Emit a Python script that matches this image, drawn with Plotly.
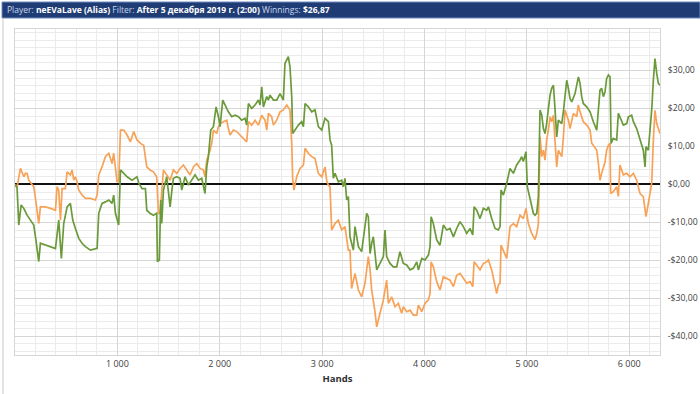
import plotly.graph_objects as go

green_hands = [0, 20, 37, 60, 86, 118, 151, 183, 200, 232, 248, 297, 346, 395, 427, 453, 476, 509, 541, 564, 590, 623, 655, 688, 737, 785, 802, 818, 850, 883, 916, 948, 964, 981, 1013, 1030, 1062, 1095, 1143, 1192, 1209, 1241, 1274, 1287, 1319, 1352, 1384, 1391, 1410, 1423, 1433, 1450, 1482, 1498, 1515, 1531, 1547, 1580, 1612, 1629, 1661, 1694, 1726, 1759, 1791, 1824, 1856, 1873, 1889, 1912, 1938, 1964, 1987, 2003, 2029, 2052, 2084, 2117, 2149, 2182, 2214, 2247, 2263, 2280, 2312, 2345, 2377, 2393, 2410, 2426, 2459, 2475, 2491, 2524, 2556, 2589, 2621, 2637, 2670, 2686, 2703, 2712, 2735, 2768, 2800, 2817, 2833, 2865, 2898, 2930, 2963, 2996, 3028, 3061, 3077, 3093, 3109, 3126, 3158, 3191, 3207, 3223, 3240, 3256, 3272, 3305, 3321, 3354, 3386, 3402, 3435, 3451, 3468, 3484, 3500, 3533, 3565, 3598, 3614, 3630, 3663, 3695, 3728, 3760, 3793, 3826, 3859, 3891, 3924, 3940, 3973, 4005, 4038, 4054, 4064, 4086, 4119, 4151, 4184, 4217, 4249, 4282, 4314, 4347, 4379, 4412, 4445, 4471, 4484, 4510, 4542, 4575, 4607, 4624, 4656, 4689, 4721, 4738, 4747, 4770, 4803, 4835, 4868, 4900, 4933, 4949, 4965, 4991, 5004, 5030, 5063, 5079, 5096, 5112, 5128, 5145, 5161, 5177, 5193, 5210, 5226, 5242, 5259, 5275, 5291, 5307, 5340, 5356, 5372, 5389, 5405, 5421, 5438, 5470, 5503, 5519, 5535, 5551, 5584, 5617, 5649, 5682, 5714, 5730, 5747, 5763, 5779, 5796, 5812, 5822, 5844, 5877, 5893, 5926, 5942, 5975, 5991, 6023, 6040, 6072, 6105, 6121, 6137, 6154, 6163, 6186, 6202, 6219, 6235, 6251, 6268, 6284, 6300]
green_vals = [0, -0.8, -10.7, -5.4, -6.3, -8.1, -9.4, -10.7, -13.8, -20.3, -15.5, -16.0, -16.4, -16.9, -9.4, -19.5, -10.3, -5.9, -5.0, -9.4, -11.6, -14.2, -15.5, -16.4, -17.3, -16.8, -16.8, -7.6, -5.0, -4.6, -4.1, -5.0, -2.8, -7.6, -10.7, 3.8, 2.9, 2.0, 1.1, 2.0, 0.3, -1.1, -1.1, -6.8, -7.6, -8.1, -7.6, -20.3, -19.9, -4.1, -10.3, -1.5, 2.0, -2.4, -5.9, -1.9, 1.6, 2.0, 1.6, -1.5, 2.0, -0.2, 1.1, 2.5, 1.1, 1.6, -2.4, 4.6, 7.3, 14.3, 15.2, 20.4, 17.8, 15.2, 22.2, 20.9, 19.1, 17.8, 18.2, 17.8, 16.9, 17.4, 15.6, 21.3, 20.0, 20.9, 22.2, 20.9, 25.7, 20.4, 23.1, 22.2, 23.5, 22.2, 22.2, 23.9, 22.2, 31.8, 33.6, 30.9, 23.1, 13.4, 14.3, 15.6, 16.5, 15.2, 21.3, 20.4, 19.1, 19.6, 15.2, 14.3, 17.4, 16.5, 11.7, 10.3, 1.6, 2.9, 0.7, 1.1, -0.6, 1.6, -4.1, -3.2, -13.8, -17.3, -11.1, -16.4, -17.7, -14.6, -7.6, -8.5, -18.2, -15.5, -13.8, -22.5, -20.8, -19.0, -12.0, -19.0, -20.8, -21.7, -21.7, -17.7, -20.8, -21.2, -22.5, -22.1, -20.4, -22.5, -19.5, -19.9, -18.6, -16.4, -8.5, -10.3, -14.6, -16.0, -10.7, -12.0, -11.6, -13.8, -11.6, -9.8, -11.1, -12.9, -11.6, -13.3, -5.9, -6.8, -9.0, -6.3, -6.8, -5.9, -9.0, -11.6, -12.0, -11.1, -1.5, -2.8, 0.3, 4.2, 2.9, 5.1, 6.4, 7.3, 6.0, 8.6, -0.6, -4.1, -7.6, -8.1, -7.6, -3.2, 19.6, 18.2, 14.7, 13.4, 16.0, 20.0, 23.5, 25.3, 26.1, 19.6, 12.5, 16.9, 16.0, 19.1, 23.9, 27.4, 25.3, 22.6, 21.7, 23.9, 28.3, 26.6, 23.1, 21.3, 20.4, 19.1, 16.5, 14.3, 24.8, 25.3, 23.1, 24.4, 27.9, 28.8, 28.3, 10.8, 12.1, 11.7, 18.7, 16.9, 15.6, 16.0, 17.8, 18.2, 16.5, 14.7, 12.1, 10.3, 9.0, 4.6, 9.9, 9.0, 13.4, 19.6, 27.4, 33.1, 29.2, 26.6, 26.1]

orange_hands = [0, 20, 53, 69, 86, 102, 118, 134, 167, 183, 200, 232, 248, 297, 346, 395, 411, 427, 444, 460, 492, 509, 541, 557, 574, 590, 606, 623, 655, 688, 737, 785, 802, 818, 850, 883, 916, 948, 964, 981, 997, 1013, 1030, 1062, 1095, 1127, 1160, 1192, 1225, 1257, 1287, 1319, 1352, 1384, 1401, 1417, 1433, 1450, 1482, 1515, 1547, 1580, 1612, 1645, 1677, 1710, 1743, 1775, 1808, 1840, 1856, 1873, 1905, 1922, 1938, 1970, 1987, 2003, 2036, 2068, 2084, 2101, 2133, 2166, 2198, 2231, 2263, 2280, 2312, 2345, 2377, 2410, 2442, 2459, 2475, 2507, 2524, 2556, 2589, 2621, 2654, 2686, 2703, 2712, 2725, 2751, 2784, 2817, 2833, 2865, 2898, 2930, 2963, 2996, 3028, 3044, 3061, 3077, 3093, 3126, 3158, 3191, 3223, 3256, 3272, 3288, 3321, 3354, 3386, 3419, 3451, 3468, 3484, 3516, 3533, 3565, 3598, 3630, 3647, 3679, 3712, 3744, 3777, 3793, 3826, 3859, 3891, 3924, 3940, 3973, 4005, 4038, 4054, 4064, 4086, 4119, 4151, 4184, 4217, 4249, 4282, 4314, 4347, 4379, 4412, 4445, 4471, 4484, 4510, 4542, 4575, 4607, 4624, 4656, 4689, 4705, 4721, 4738, 4747, 4770, 4803, 4835, 4868, 4900, 4933, 4965, 4991, 5014, 5047, 5079, 5096, 5112, 5128, 5145, 5161, 5177, 5193, 5210, 5226, 5242, 5259, 5275, 5291, 5307, 5340, 5356, 5372, 5405, 5421, 5454, 5486, 5503, 5519, 5551, 5584, 5617, 5633, 5649, 5682, 5698, 5714, 5730, 5763, 5779, 5796, 5812, 5818, 5844, 5877, 5893, 5909, 5942, 5975, 6007, 6040, 6072, 6089, 6105, 6137, 6154, 6163, 6186, 6202, 6219, 6235, 6251, 6268, 6284, 6300]
orange_vals = [0, -0.8, 4.2, 3.3, 2.0, 2.9, 2.9, 1.1, -0.2, -0.6, -3.7, -10.3, -5.9, -5.9, -6.3, -6.8, -0.6, -1.5, -9.4, -1.1, -1.1, 3.3, 2.5, 3.8, 1.1, 2.0, 0.7, -1.5, -2.8, -3.7, -3.7, -4.1, -2.8, 2.5, 4.6, 7.3, 8.2, 5.5, 8.2, 3.3, 0.7, 0.7, 14.3, 14.3, 13.0, 11.2, 13.9, 11.7, 10.8, 10.3, 4.6, 3.8, 3.3, 2.0, -7.6, -7.6, -2.4, 3.8, 2.5, 1.1, 3.8, 2.9, 4.2, 5.1, 3.8, 2.5, 4.6, 5.5, 4.2, 3.8, 2.0, 6.4, 9.0, 10.8, 14.3, 13.4, 15.2, 16.0, 16.5, 16.9, 14.7, 13.0, 14.3, 13.9, 13.0, 12.1, 11.2, 16.5, 15.6, 16.9, 15.6, 18.2, 16.9, 14.3, 18.7, 17.8, 15.6, 16.9, 19.1, 19.6, 20.9, 19.6, 10.8, 1.6, -1.5, 2.0, 4.2, 5.1, 9.5, 8.2, 7.3, 6.8, 2.9, 2.0, 4.6, 1.1, -0.2, -0.6, -12.0, -10.3, -9.4, -12.0, -11.1, -17.3, -17.3, -27.4, -23.4, -27.8, -29.6, -26.0, -19.0, -22.5, -27.8, -33.5, -37.5, -33.9, -30.4, -25.2, -31.3, -29.6, -32.2, -31.3, -33.9, -32.2, -33.5, -33.1, -34.4, -34.4, -31.8, -33.5, -31.3, -30.4, -28.7, -20.4, -21.7, -25.6, -27.8, -24.3, -24.7, -25.2, -26.9, -23.9, -23.4, -24.7, -26.0, -25.6, -26.9, -20.4, -21.2, -22.5, -20.8, -20.4, -19.9, -22.5, -26.9, -28.7, -26.5, -26.0, -16.0, -17.3, -19.5, -11.1, -10.3, -11.1, -8.1, -9.0, -6.3, -10.3, -12.9, -14.5, -13.0, -10.3, 12.5, 7.3, 9.0, 6.4, 11.7, 14.3, 17.8, 16.5, 18.2, 11.2, 4.6, 9.0, 7.3, 12.1, 19.6, 16.9, 14.7, 18.7, 17.8, 20.9, 19.1, 16.5, 15.6, 14.3, 10.8, 10.3, 9.0, 5.5, 1.1, 2.9, 5.9, 9.0, 10.3, 10.8, -2.4, -1.9, -0.6, -3.2, 5.1, 2.5, 2.9, 2.0, 2.9, 1.1, -0.6, -2.4, -3.2, -6.3, -8.5, -5.0, -2.4, 0.3, 11.7, 19.5, 16.0, 14.3, 13.4]

x_tick_vals = [1000, 2000, 3000, 4000, 5000, 6000]
x_tick_text = ["1 000", "2 000", "3 000", "4 000", "5 000", "6 000"]
y_tick_vals = [30, 20, 10, 0, -10, -20, -30, -40]
y_tick_text = ["$30,00", "$20,00", "$10,00", "$0,00", "-$10,00", "-$20,00", "-$30,00", "-$40,00"]

header_text = ("<span style='color:#c9d6ee'>Player: </span><b>neEVaLave (Alias)</b>"
               "<span style='color:#c9d6ee'> Filter: </span><b>After 5 декабря 2019 г. (2:00)</b>"
               "<span style='color:#c9d6ee'> Winnings: </span><b>$26,87</b>")

FONT = "Open Sans"
L, R, T, B = 15, 40, 29, 39
PW, PH = 700 - L - R, 394 - T - B


def px(x):
    return (x - L) / PW


def py(y):
    return (394 - B - y) / PH


fig = go.Figure()
fig.add_trace(go.Scatter(x=orange_hands, y=orange_vals, mode="lines",
                         line=dict(color="#f7a257", width=1.7), showlegend=False))
fig.add_trace(go.Scatter(x=green_hands, y=green_vals, mode="lines",
                         line=dict(color="#6a9a3a", width=1.7), showlegend=False))

fig.update_layout(
    width=700, height=394,
    margin=dict(l=L, r=R, t=T, b=B, autoexpand=False),
    paper_bgcolor="white", plot_bgcolor="white",
    font=dict(family=FONT, size=9, color="#404040"),
    xaxis=dict(range=[0, 6300], tickmode="array", tickvals=x_tick_vals, ticktext=x_tick_text,
               automargin=False,
               showgrid=True, gridcolor="#d6d6d6", gridwidth=1,
               minor=dict(dtick=200, tick0=0, showgrid=True, gridcolor="#ebebeb"),
               showline=True, linecolor="#d6d6d6", mirror=True, zeroline=False,
               ticks="", tickfont=dict(size=9, color="#404040"),
               title=dict(text="<b>Hands</b>", font=dict(size=9.5, color="#303030"), standoff=6)),
    yaxis=dict(range=[-44.9, 40.9], side="right", tickmode="array",
               tickvals=y_tick_vals, ticktext=y_tick_text, automargin=False,
               showgrid=True, gridcolor="#d6d6d6", gridwidth=1,
               minor=dict(dtick=2, tick0=0, showgrid=True, gridcolor="#ebebeb"),
               showline=True, linecolor="#d6d6d6", mirror=True,
               zeroline=True, zerolinecolor="#111111", zerolinewidth=2,
               ticks="", ticklabelstandoff=5, tickfont=dict(size=8.7, color="#404040")),
    shapes=[
        dict(type="rect", xref="paper", yref="paper",
             x0=px(2), x1=px(700), y0=py(18), y1=py(2),
             fillcolor="#1f3d74", line=dict(color="#6f8cc0", width=1), layer="above"),
        dict(type="line", xref="paper", yref="paper",
             x0=px(3), x1=px(3), y0=py(394), y1=py(18),
             line=dict(color="#c8c8c8", width=1)),
    ],
    annotations=[
        dict(text=header_text, xref="paper", yref="paper",
             x=px(5), y=py(10), xanchor="left", yanchor="middle",
             showarrow=False, font=dict(family=FONT, size=8.5, color="white")),
    ],
)

fig.write_html("out.html", config={"displayModeBar": False},
               post_script="document.body.style.margin='0px';document.body.style.overflow='hidden';")
